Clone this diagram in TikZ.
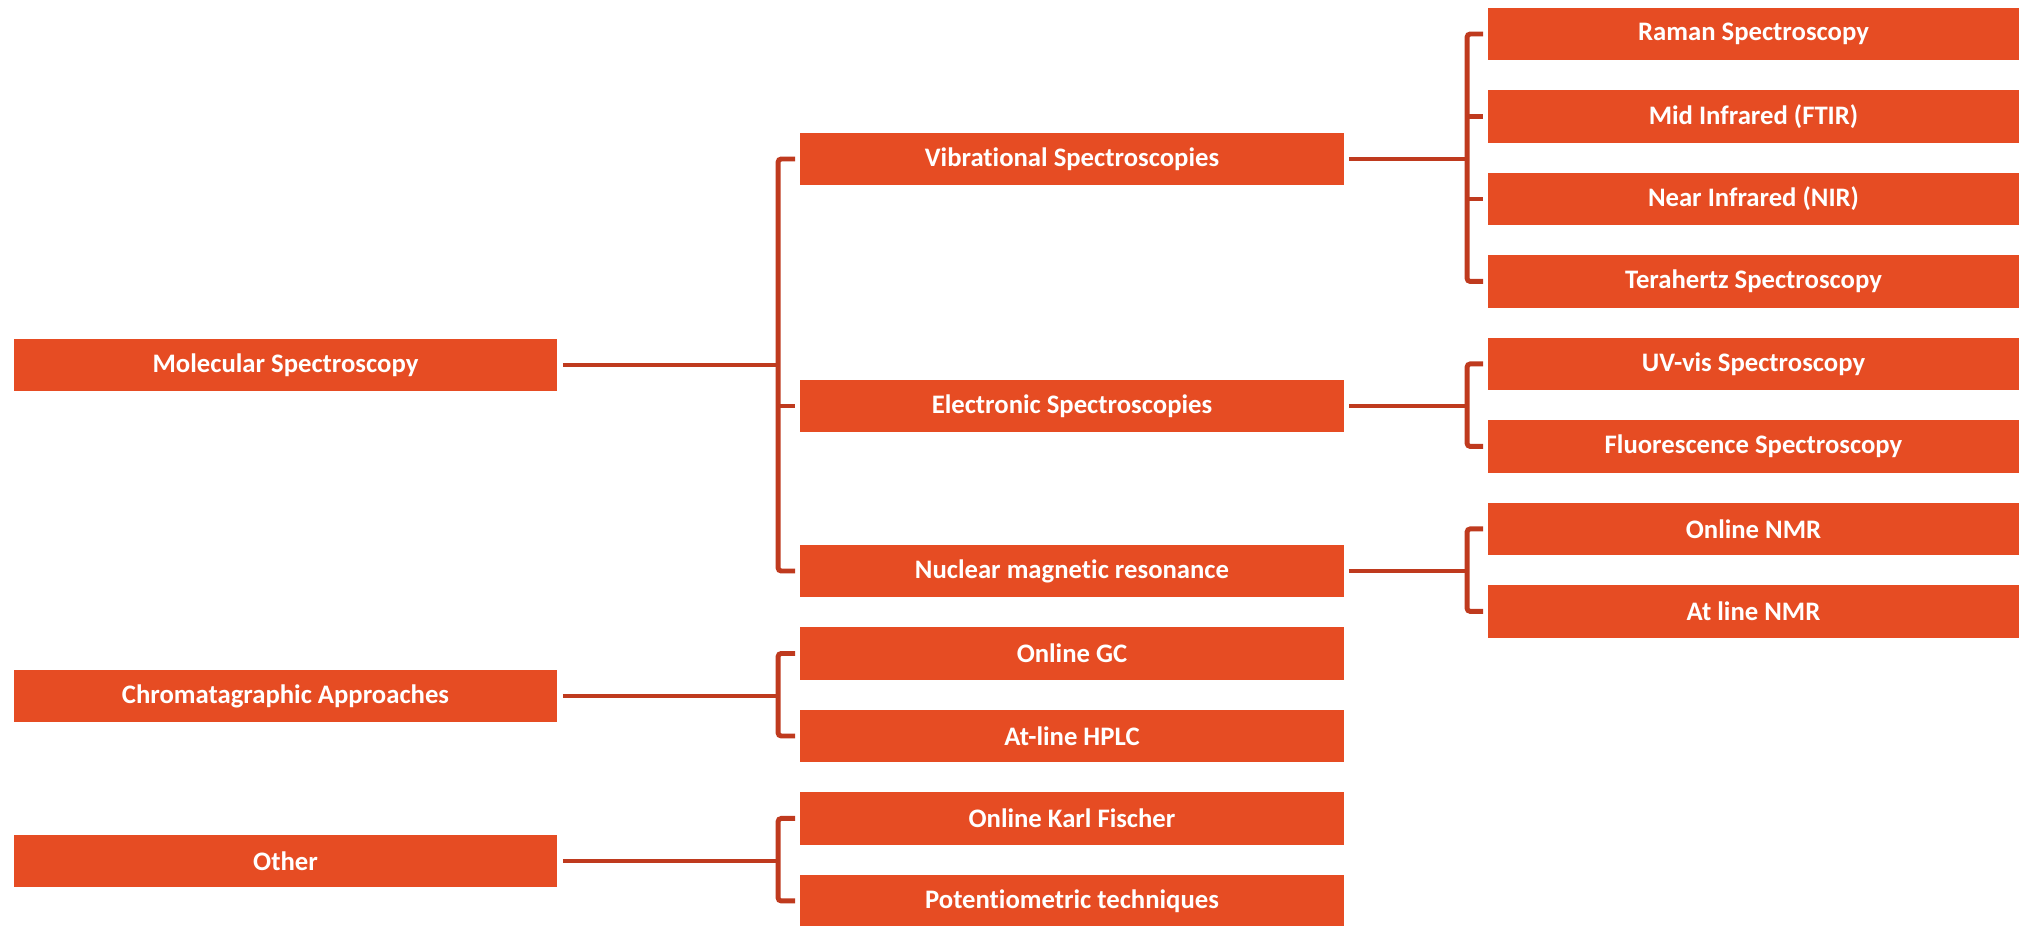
\documentclass[tikz,border=0pt]{standalone}
\usepackage{fontspec}
\setmainfont[Ligatures=CommonOff]{Carlito}
\usepackage{xcolor}
\usetikzlibrary{positioning}

\definecolor{boxfill}{HTML}{E64C23}
\definecolor{linkcol}{HTML}{BF3A1E}

\begin{document}
\begin{tikzpicture}[
  x=0.02cm,y=-0.02cm,
  topic/.style={fill=boxfill,inner sep=0pt,outer sep=0pt,minimum height=1.05cm,
    text=white,font=\fontsize{15.2}{18}\selectfont\bfseries},
  lvlone/.style={topic,minimum width=10.86cm},
  lvltwo/.style={topic,minimum width=10.88cm},
  lvlthree/.style={topic,minimum width=10.62cm},
  brk/.style={draw=linkcol,line width=2.8pt,rounded corners=1.8pt},
  node distance=0.6cm
]
  \useasboundingbox (0,0) rectangle (2019,926);

  % first column
  \node[lvlone] (mol)   at (285.5,365) {Molecular Spectroscopy};
  \node[lvlone] (chrom) at (285.5,696) {Chromatagraphic Approaches};
  \node[lvlone] (other) at (285.5,861) {Other};

  % second column
  \node[lvltwo] (vib)  at (1072,159) {Vibrational Spectroscopies};
  \node[lvltwo] (elec) at (1072,406) {Electronic Spectroscopies};
  \node[lvltwo] (nmr)  at (1072,571) {Nuclear magnetic resonance};
  \node[lvltwo,below=of nmr] (gc) {Online GC};
  \node[lvltwo,below=of gc] (hplc) {At-line HPLC};
  \node[lvltwo,below=of hplc] (kf) {Online Karl Fischer};
  \node[lvltwo,below=of kf] (pot) {Potentiometric techniques};

  % third column
  \node[lvlthree] (raman) at (1753.5,34) {Raman Spectroscopy};
  \node[lvlthree,below=of raman] (ftir) {Mid Infrared (FTIR)};
  \node[lvlthree,below=of ftir] (nir) {Near Infrared (NIR)};
  \node[lvlthree,below=of nir] (thz) {Terahertz Spectroscopy};
  \node[lvlthree,below=of thz] (uv) {UV-vis Spectroscopy};
  \node[lvlthree,below=of uv] (fluo) {Fluorescence Spectroscopy};
  \node[lvlthree,below=of fluo] (onmr) {Online NMR};
  \node[lvlthree,below=of onmr] (anmr) {At line NMR};

  % spines of the brackets
  \coordinate (sp2) at ([xshift=-0.44cm]vib.west);
  \coordinate (sp3) at ([xshift=-0.42cm]raman.west);

  % molecular spectroscopy
  \draw[brk] ([xshift=0.12cm]mol.east) -- (mol.east -| sp2);
  \draw[brk] ([xshift=-0.1cm]vib.west) -- (sp2) |- ([xshift=-0.1cm]nmr.west);
  \draw[brk] (elec.west -| sp2) -- ([xshift=-0.1cm]elec.west);

  % chromatography and other
  \draw[brk] ([xshift=0.12cm]chrom.east) -- (chrom.east -| sp2);
  \draw[brk] ([xshift=-0.1cm]gc.west) -- (gc.west -| sp2) |- ([xshift=-0.1cm]hplc.west);
  \draw[brk] ([xshift=0.12cm]other.east) -- (other.east -| sp2);
  \draw[brk] ([xshift=-0.1cm]kf.west) -- (kf.west -| sp2) |- ([xshift=-0.1cm]pot.west);

  % vibrational
  \draw[brk] ([xshift=0.1cm]vib.east) -- (vib.east -| sp3);
  \draw[brk] ([xshift=-0.1cm]raman.west) -- (sp3) |- ([xshift=-0.1cm]thz.west);
  \draw[brk] (ftir.west -| sp3) -- ([xshift=-0.1cm]ftir.west);
  \draw[brk] (nir.west -| sp3) -- ([xshift=-0.1cm]nir.west);

  % electronic
  \draw[brk] ([xshift=0.1cm]elec.east) -- (elec.east -| sp3);
  \draw[brk] ([xshift=-0.1cm]uv.west) -- (uv.west -| sp3) |- ([xshift=-0.1cm]fluo.west);

  % nmr
  \draw[brk] ([xshift=0.1cm]nmr.east) -- (nmr.east -| sp3);
  \draw[brk] ([xshift=-0.1cm]onmr.west) -- (onmr.west -| sp3) |- ([xshift=-0.1cm]anmr.west);
\end{tikzpicture}
\end{document}
